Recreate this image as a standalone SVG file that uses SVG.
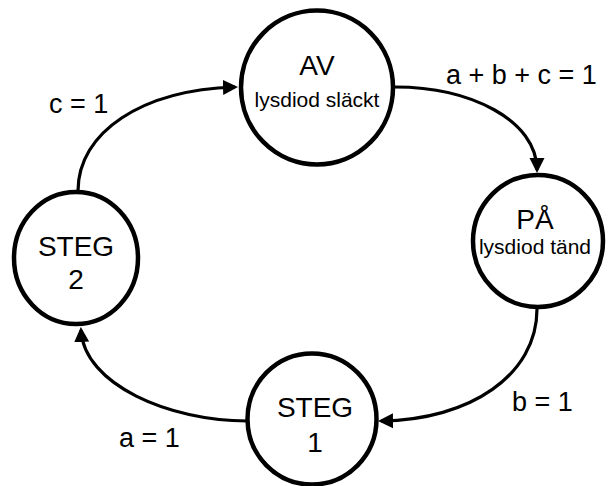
<svg xmlns="http://www.w3.org/2000/svg" width="611" height="486" viewBox="0 0 611 486">
  <style>
    .node { fill: #ffffff; stroke: #000000; stroke-width: 4.5; }
    .edge { fill: none; stroke: #000000; stroke-width: 3.2; marker-end: url(#arrow); }
    text { font-family: "Liberation Sans", Arial, sans-serif; fill: #000000; }
    .big { font-size: 28px; text-anchor: middle; }
    .small { font-size: 21px; text-anchor: middle; }
    .label { font-size: 27px; }
  </style>
  <defs>
    <marker id="arrow" markerUnits="userSpaceOnUse" markerWidth="16" markerHeight="16" refX="12" refY="8" orient="auto">
      <path d="M0,0.5 L15,8 L0,15.5 Z" fill="#000000"/>
    </marker>
  </defs>
  <rect width="611" height="486" fill="#ffffff"/>
  <g id="connectors">
    <path class="edge" d="M395,87 C470,87 537,120 537,170"/>
    <path class="edge" d="M537,309 C537,375 470,420 381,421"/>
    <path class="edge" d="M247,421 C170,421 84,385 81,330"/>
    <path class="edge" d="M78,191 C78,132 142,90 235,87"/>
  </g>
  <g id="node-av">
    <ellipse class="node" cx="317" cy="87.5" rx="76" ry="77"/>
    <text class="big" x="317" y="75">AV</text>
    <text class="small" x="317" y="107">lysdiod släckt</text>
  </g>
  <g id="node-pa">
    <ellipse class="node" cx="538" cy="241" rx="65" ry="66"/>
    <text class="big" x="535" y="229">PÅ</text>
    <text class="small" x="535" y="254">lysdiod tänd</text>
  </g>
  <g id="node-steg1">
    <ellipse class="node" cx="312" cy="419" rx="64.5" ry="65.5"/>
    <text class="big" x="315" y="417">STEG</text>
    <text class="big" x="315" y="452">1</text>
  </g>
  <g id="node-steg2">
    <ellipse class="node" cx="76" cy="258" rx="62" ry="66"/>
    <text class="big" x="76" y="256">STEG</text>
    <text class="big" x="76" y="289">2</text>
  </g>
  <g id="labels">
    <text class="label" x="49" y="113">c = 1</text>
    <text class="label" x="446" y="84">a + b + c = 1</text>
    <text class="label" x="119" y="447">a = 1</text>
    <text class="label" x="512" y="411">b = 1</text>
  </g>
</svg>
